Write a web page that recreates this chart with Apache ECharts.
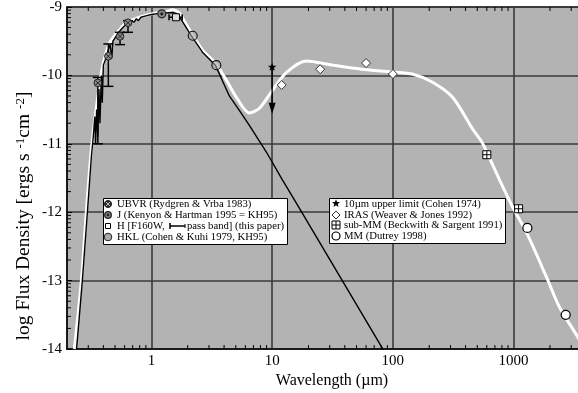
<!DOCTYPE html>
<html><head><meta charset="utf-8">
<script src="https://cdn.jsdelivr.net/npm/echarts@6/dist/echarts.min.js"></script>
<style>html,body{margin:0;padding:0;background:#fff}#c{width:578px;height:393px}</style>
</head><body><div id="c"></div><script>
const FONT = '"Liberation Serif","Times New Roman",serif';

// Photosphere model (black line): wavelength (um), log flux
const modelLam = [0.240,0.268,0.295,0.318,0.330,0.340,0.345,0.352,0.360,0.368,0.375,0.385,0.392,0.400,0.420,0.440,0.455,0.470,0.480,0.500,0.530,0.580,0.630,0.680,0.720,0.750,0.780,0.820,0.900,1.00,1.20,1.50,1.65,1.71,2.14,2.65,3.39,4.42,5.35,6.48,8.96,12.2,15.3,82,100];
const modelF   = [-14.0,-13.0,-12.0,-11.2,-10.9,-10.6,-11.0,-10.5,-10.9,-10.2,-10.7,-10.0,-10.4,-9.85,-9.75,-9.62,-9.55,-9.75,-9.50,-9.45,-9.38,-9.30,-9.24,-9.20,-9.22,-9.17,-9.20,-9.15,-9.13,-9.11,-9.09,-9.08,-9.10,-9.12,-9.42,-9.66,-9.85,-10.30,-10.51,-10.73,-11.12,-11.53,-11.82,-13.99,-14.27];

// Disk model (white line)
const diskLam = [0.230,0.263,0.289,0.318,0.357,0.393,0.449,0.523,0.621,0.796,1.02,1.33,1.49,1.71,1.81,2.14,2.65,3.39,4.18,5.06,6.48,7.85,9.87,13.1,19.2,31.6,55.0,99.3,145,213,312,456,552,721,979,1280,1874,2400,3383,4000];
const diskF   = [-14.0,-13.0,-12.0,-11.09,-10.36,-9.88,-9.53,-9.37,-9.23,-9.15,-9.10,-9.07,-9.04,-9.09,-9.16,-9.38,-9.63,-9.82,-10.07,-10.32,-10.55,-10.48,-10.24,-9.96,-9.79,-9.85,-9.91,-9.95,-9.98,-10.10,-10.32,-10.78,-10.99,-11.43,-11.92,-12.30,-12.95,-13.39,-13.82,-14.05];

// Observations
const ubvrLam = [0.36,0.44,0.55,0.64];
const ubvrF   = [-10.11,-9.72,-9.43,-9.23];
const ubvrErrLo = [-11.0,-10.16,-9.55,-9.37];
const ubvrErrHi = [-10.03,-9.54,-9.37,-9.20];
const kh95Lam = [1.22], kh95F = [-9.10];
const hLam = [1.6], hF = [-9.15], hBandLo = [1.4], hBandHi = [1.8];
const hklLam = [2.2,3.45], hklF = [-9.42,-9.85];
const limLam = [10], limF = [-9.88], limTo = [-10.56];
const irasLam = [12,25,60,100], irasF = [-10.14,-9.91,-9.82,-9.98];
const submmLam = [600,1100], submmF = [-11.16,-11.95];
const mmLam = [1300,2700], mmF = [-12.23,-13.50];

// Axis ticks
const xMin = 0.2, xMax = 5000, yMin = -14, yMax = -9;
const xMajor = [1,10,100,1000];
const xMinor = [];
for (const d of [0.1,1,10,100,1000]) for (let k=2;k<=9;k++){ const v=+(k*d).toPrecision(3); if(v>xMin && v<=xMax) xMinor.push(v); }
const yMinor = [];
for (let n=-14;n<-9;n++) for (let k=2;k<=9;k++) yMinor.push(n+Math.log10(k));

const pts = (l,f)=>l.map((v,i)=>[v,f[i]]);
function mk(name, data, draw, z){
  return {type:'custom', name, coordinateSystem:'cartesian2d', silent:true, z:z||10, data,
    renderItem:(params, api)=>{ const p=api.coord([api.value(0), api.value(1)]); return draw(p, api, params.dataIndex); }};
}
function starPts(cx,cy,ro,ri){ const a=[]; for(let i=0;i<10;i++){ const r=i%2?ri:ro; const t=-Math.PI/2+i*Math.PI/5; a.push([cx+r*Math.cos(t), cy+r*Math.sin(t)]);} return a; }
const K = '#000';

const series = [
  {type:'line', name:'disk', data: pts(diskLam, diskF), showSymbol:false, smooth:0.3, lineStyle:{color:'#fff', width:3}, z:3, silent:true},
  {type:'line', name:'model', data: pts(modelLam, modelF), showSymbol:false, lineStyle:{color:'#000', width:1.4}, z:4, silent:true},
  mk('xt', xMinor.map(v=>[v,yMin]), (p,api)=>{ const t=api.coord([api.value(0), yMax]); return {type:'group', children:[
    {type:'line', shape:{x1:p[0],y1:p[1],x2:p[0],y2:p[1]-4}, style:{stroke:K, lineWidth:1}},
    {type:'line', shape:{x1:t[0],y1:t[1],x2:t[0],y2:t[1]+4}, style:{stroke:K, lineWidth:1}}]}; }, 2),
  mk('yt', yMinor.map(v=>[xMin,v]), (p)=>({type:'line', shape:{x1:p[0],y1:p[1],x2:p[0]+4,y2:p[1]}, style:{stroke:K, lineWidth:1}}), 2),
  mk('ubvr', pts(ubvrLam, ubvrF), (p,api,i)=>{ const hi=api.coord([ubvrLam[i], ubvrErrHi[i]]), lo=api.coord([ubvrLam[i], ubvrErrLo[i]]);
    return {type:'group', children:[
      {type:'line', shape:{x1:p[0],y1:hi[1],x2:p[0],y2:lo[1]}, style:{stroke:K, lineWidth:1.5}},
      {type:'line', shape:{x1:p[0]-5,y1:hi[1],x2:p[0]+5,y2:hi[1]}, style:{stroke:K, lineWidth:1.5}},
      {type:'line', shape:{x1:p[0]-5,y1:lo[1],x2:p[0]+5,y2:lo[1]}, style:{stroke:K, lineWidth:1.5}},
      {type:'circle', shape:{cx:p[0],cy:p[1],r:3.8}, style:{fill:'#8a8a8a', stroke:'#222', lineWidth:1}},
      {type:'line', shape:{x1:p[0]-2.5,y1:p[1]-2.5,x2:p[0]+2.5,y2:p[1]+2.5}, style:{stroke:'#222', lineWidth:1}},
      {type:'line', shape:{x1:p[0]-2.5,y1:p[1]+2.5,x2:p[0]+2.5,y2:p[1]-2.5}, style:{stroke:'#222', lineWidth:1}}]}; }),
  mk('kh95', pts(kh95Lam, kh95F), (p)=>({type:'group', children:[
      {type:'circle', shape:{cx:p[0],cy:p[1],r:4}, style:{fill:'#8a8a8a', stroke:'#222', lineWidth:1.2}},
      {type:'circle', shape:{cx:p[0],cy:p[1],r:1.6}, style:{fill:'#222'}}]})),
  mk('h', pts(hLam, hF), (p,api,i)=>{ const a=api.coord([hBandLo[i], hF[i]]), b=api.coord([hBandHi[i], hF[i]]);
    return {type:'group', children:[
      {type:'line', shape:{x1:a[0],y1:p[1],x2:b[0],y2:p[1]}, style:{stroke:K, lineWidth:1.5}},
      {type:'line', shape:{x1:a[0],y1:p[1]-3,x2:a[0],y2:p[1]+3}, style:{stroke:K, lineWidth:1.5}},
      {type:'line', shape:{x1:b[0],y1:p[1]-3,x2:b[0],y2:p[1]+3}, style:{stroke:K, lineWidth:1.5}},
      {type:'rect', shape:{x:p[0]-3.5,y:p[1]-3.5,width:7,height:7}, style:{fill:'#ddd', stroke:K, lineWidth:1}}]}; }),
  mk('hkl', pts(hklLam, hklF), (p)=>({type:'circle', shape:{cx:p[0],cy:p[1],r:4.5}, style:{fill:'rgba(170,170,170,0.6)', stroke:'#111', lineWidth:1.1}})),
  mk('lim', pts(limLam, limF), (p,api,i)=>{ const t=api.coord([limLam[i], limTo[i]]);
    return {type:'group', children:[
      {type:'line', shape:{x1:p[0],y1:p[1],x2:t[0],y2:t[1]-9}, style:{stroke:K, lineWidth:1.4}},
      {type:'polygon', shape:{points:[[t[0],t[1]],[t[0]-3.5,t[1]-11],[t[0]+3.5,t[1]-11]]}, style:{fill:K}},
      {type:'polygon', shape:{points:starPts(p[0],p[1],4.5,1.9)}, style:{fill:K}}]}; }),
  mk('iras', pts(irasLam, irasF), (p)=>({type:'polygon', shape:{points:[[p[0],p[1]-4.5],[p[0]+4.5,p[1]],[p[0],p[1]+4.5],[p[0]-4.5,p[1]]]}, style:{fill:'#fff', stroke:'#333', lineWidth:1}})),
  mk('submm', pts(submmLam, submmF), (p)=>({type:'group', children:[
      {type:'rect', shape:{x:p[0]-4,y:p[1]-4,width:8,height:8}, style:{fill:'#fff', stroke:K, lineWidth:1}},
      {type:'line', shape:{x1:p[0],y1:p[1]-4,x2:p[0],y2:p[1]+4}, style:{stroke:K, lineWidth:1}},
      {type:'line', shape:{x1:p[0]-4,y1:p[1],x2:p[0]+4,y2:p[1]}, style:{stroke:K, lineWidth:1}}]})),
  mk('mm', pts(mmLam, mmF), (p)=>({type:'circle', shape:{cx:p[0],cy:p[1],r:4.5}, style:{fill:'#fff', stroke:K, lineWidth:1.2}}))
];

const LF = 10.7;
const tf = (size)=>({fontFamily:FONT, fontSize:size, fill:'#000'});
const legL = [ 'UBVR (Rydgren & Vrba 1983)', 'J (Kenyon & Hartman 1995 = KH95)', 'H [F160W, ', 'HKL (Cohen & Kuhi 1979, KH95)' ];
const legR = [ '10\u00b5m upper limit (Cohen 1974)', 'IRAS (Weaver & Jones 1992)', 'sub-MM (Beckwith & Sargent 1991)', 'MM (Dutrey 1998)' ];
const ly = [204,215,226,237];
const ry = [204,215,225,236];
const graphic = [
  {type:'rect', shape:{x:103.5,y:198.5,width:184,height:46}, style:{fill:'#fff', stroke:'#000', lineWidth:1}, z:20},
  {type:'rect', shape:{x:329.5,y:198.5,width:176,height:45}, style:{fill:'#fff', stroke:'#000', lineWidth:1}, z:20},
  {type:'circle', shape:{cx:108,cy:ly[0],r:3.5}, style:{fill:'#333', stroke:'#111'}, z:21},
  {type:'line', shape:{x1:105.8,y1:ly[0]-2.2,x2:110.2,y2:ly[0]+2.2}, style:{stroke:'#bbb', lineWidth:1}, z:22},
  {type:'line', shape:{x1:105.8,y1:ly[0]+2.2,x2:110.2,y2:ly[0]-2.2}, style:{stroke:'#bbb', lineWidth:1}, z:22},
  {type:'circle', shape:{cx:108,cy:ly[1],r:3.3}, style:{fill:'#888', stroke:'#222', lineWidth:1.3}, z:21},
  {type:'circle', shape:{cx:108,cy:ly[1],r:1.4}, style:{fill:'#222'}, z:22},
  {type:'rect', shape:{x:105.5,y:ly[2]-2.5,width:5,height:5}, style:{fill:'#fff', stroke:'#000', lineWidth:1}, z:21},
  {type:'circle', shape:{cx:108,cy:ly[3],r:3.8}, style:{fill:'#aaa', stroke:'#222', lineWidth:1}, z:21},
  {type:'line', shape:{x1:170,y1:ly[2],x2:185,y2:ly[2]}, style:{stroke:'#000', lineWidth:1.5}, z:21},
  {type:'line', shape:{x1:170,y1:ly[2]-3,x2:170,y2:ly[2]+3}, style:{stroke:'#000', lineWidth:1.5}, z:21},
  {type:'line', shape:{x1:185,y1:ly[2]-2,x2:185,y2:ly[2]+2}, style:{stroke:'#000', lineWidth:1}, z:21},
  {type:'text', x:187, y:ly[2], style:Object.assign({text:'pass band] (this paper)', verticalAlign:'middle'}, tf(LF)), z:21},
  {type:'polygon', shape:{points:starPts(336,ry[0]-0.5,4.3,1.8)}, style:{fill:'#000'}, z:21},
  {type:'polygon', shape:{points:[[336,ry[1]-4],[340,ry[1]],[336,ry[1]+4],[332,ry[1]]]}, style:{fill:'#fff', stroke:'#333', lineWidth:1}, z:21},
  {type:'rect', shape:{x:332,y:ry[2]-4,width:8,height:8}, style:{fill:'#fff', stroke:'#000', lineWidth:1}, z:21},
  {type:'line', shape:{x1:336,y1:ry[2]-4,x2:336,y2:ry[2]+4}, style:{stroke:'#000', lineWidth:1}, z:21},
  {type:'line', shape:{x1:332,y1:ry[2],x2:340,y2:ry[2]}, style:{stroke:'#000', lineWidth:1}, z:21},
  {type:'circle', shape:{cx:336,cy:ry[3],r:4}, style:{fill:'#fff', stroke:'#000', lineWidth:1.2}, z:21},
  {type:'text', x:332, y:381, style:Object.assign({text:'Wavelength (\u00b5m)', align:'center', verticalAlign:'middle'}, tf(16)), z:21},
  {type:'text', x:24, y:216, rotation:Math.PI/2, style:{text:'{a|log Flux Density [ergs s }{s|-1}{a|cm }{s|-2}{a|]}', align:'center', verticalAlign:'middle',
     rich:{a:{fontFamily:FONT, fontSize:19.5, fill:'#000', verticalAlign:'bottom'}, s:{fontFamily:FONT, fontSize:13, fill:'#000', verticalAlign:'top'}}}, z:21}
];
legL.forEach((t,i)=>graphic.push({type:'text', x:117, y:ly[i], style:Object.assign({text:t, verticalAlign:'middle'}, tf(LF)), z:21}));
legR.forEach((t,i)=>graphic.push({type:'text', x:344, y:ry[i], style:Object.assign({text:t, verticalAlign:'middle'}, tf(LF)), z:21}));

const option = {
  animation:false,
  backgroundColor:'#fff',
  grid:{left:67, top:7, width:531, height:342, outerBoundsMode:'none', containLabel:false, show:true, backgroundColor:'#b3b3b3', borderColor:'#111', borderWidth:1.5},
  xAxis:{type:'log', logBase:10, min:xMin, max:xMax,
    axisLine:{show:true, lineStyle:{color:'#111', width:1.5}}, axisTick:{show:false},
    splitLine:{show:true, lineStyle:{color:'#3a3a3a', width:1.6}},
    axisLabel:{margin:5, color:'#000', fontFamily:FONT, fontSize:15, showMinLabel:false, showMaxLabel:false,
      formatter:(v)=>{ const l=Math.log10(v); return Math.abs(l-Math.round(l))<1e-6 && xMajor.indexOf(Math.round(v))>=0 ? String(Math.round(v)) : ''; }}},
  yAxis:{type:'value', min:yMin, max:yMax, interval:1,
    axisLine:{show:true, lineStyle:{color:'#111', width:1.5}}, axisTick:{show:true, inside:true, length:5, lineStyle:{color:'#000'}},
    splitLine:{show:true, lineStyle:{color:'#3a3a3a', width:1.6}},
    axisLabel:{margin:5, color:'#000', fontFamily:FONT, fontSize:15}},
  series, graphic
};
const chart = echarts.init(document.getElementById('c'));
chart.setOption(option);
</script></body></html>
